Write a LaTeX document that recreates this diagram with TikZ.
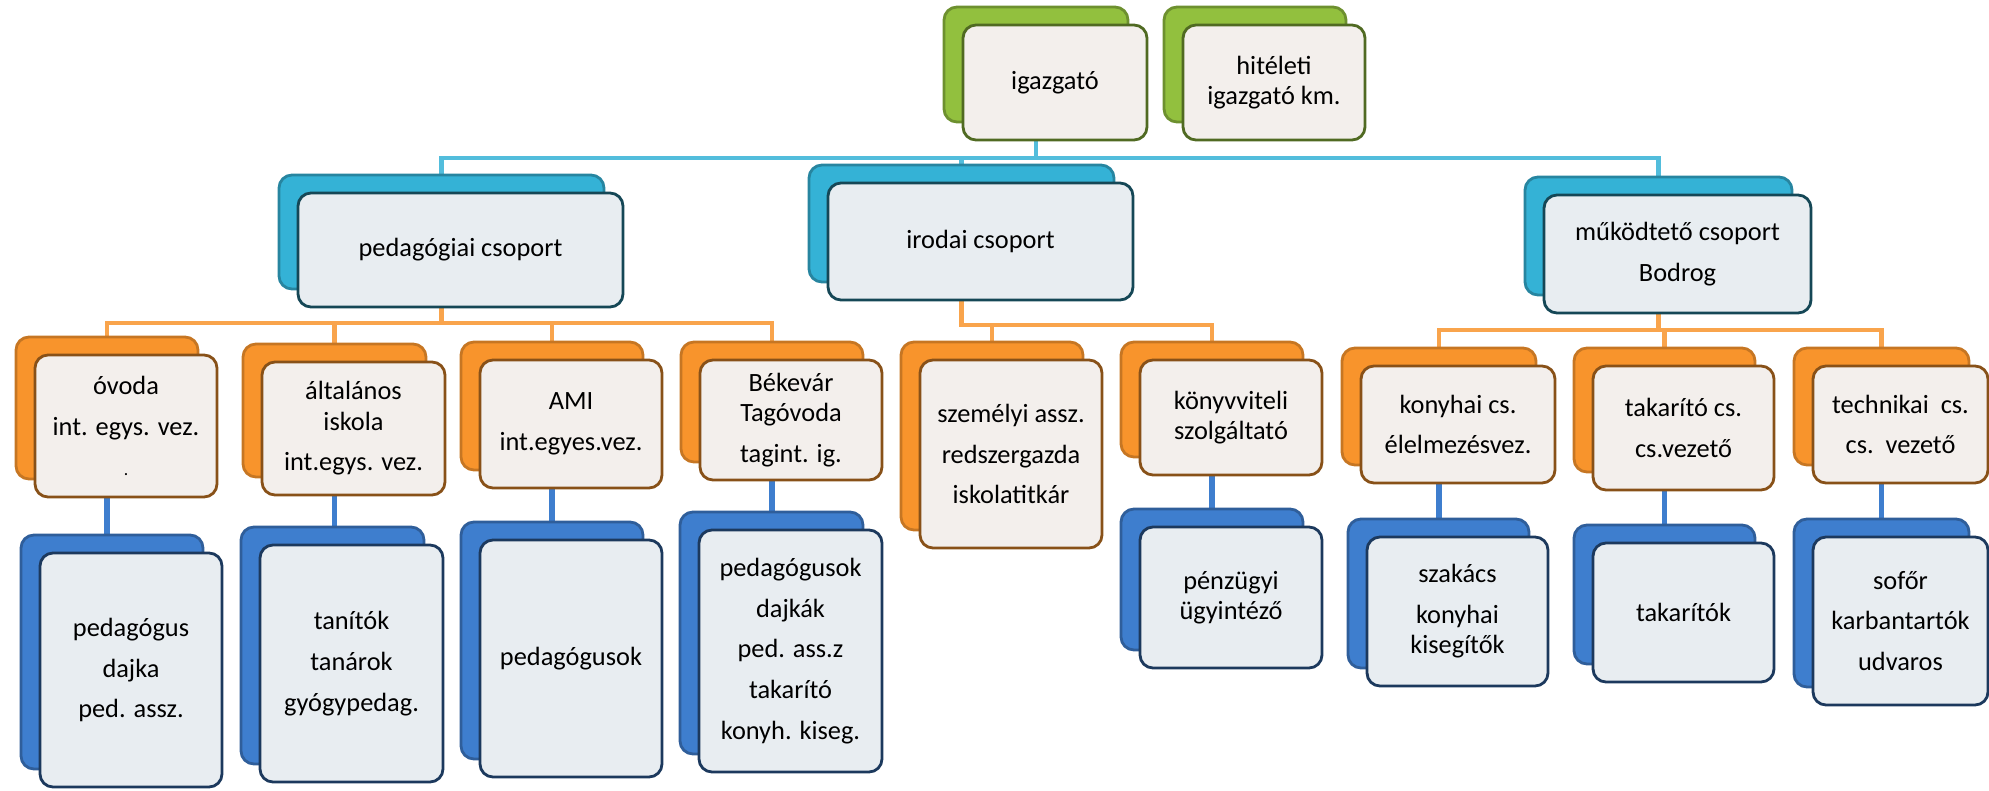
\documentclass[tikz,border=0pt]{standalone}
\usepackage{fontspec}
\setmainfont{Carlito}
\usetikzlibrary{shadows, backgrounds}
\definecolor{OffGreen}{RGB}{146, 192, 62}
\definecolor{OffCyan}{RGB}{52, 178, 214}
\definecolor{OffOrange}{RGB}{248, 148, 44}
\definecolor{OffBlue}{RGB}{62, 126, 206}
\definecolor{OffWarm}{RGB}{243, 239, 236}
\definecolor{OffCool}{RGB}{232, 237, 241}
\tikzset{
  card/.style={rectangle, rounded corners=1.3mm, line width=0.8pt, minimum width=18.2mm,
    align=center, inner sep=1pt, font=\fontsize{7.5}{8.6}\selectfont},
  chief/.style={card, draw=OffGreen!55!black, fill=OffWarm,
    copy shadow={shadow xshift=-1.9mm, shadow yshift=1.8mm, fill=OffGreen, draw=OffGreen!75!black}},
  grp/.style={card, draw=OffCyan!40!black, fill=OffCool,
    copy shadow={shadow xshift=-1.9mm, shadow yshift=1.8mm, fill=OffCyan, draw=OffCyan!75!black}},
  unit/.style={card, draw=OffOrange!55!black, fill=OffWarm,
    copy shadow={shadow xshift=-1.9mm, shadow yshift=1.8mm, fill=OffOrange, draw=OffOrange!80!black}},
  staff/.style={card, draw=OffBlue!45!black, fill=OffCool,
    copy shadow={shadow xshift=-1.9mm, shadow yshift=1.8mm, fill=OffBlue, draw=OffBlue!75!black}},
  grpline/.style={line width=1.2pt, OffCyan!85!white},
  unitline/.style={line width=1.3pt, OffOrange!85!white},
  staffline/.style={line width=1.5pt, OffBlue},
}
\begin{document}
\begin{tikzpicture}
  \useasboundingbox (0,0) rectangle (19.89,7.90);
  % vezetes
  \node[chief, minimum width=18.4mm, minimum height=11.5mm] (igaz) at (10.55,7.075) {igazgató};
  \node[chief, minimum height=11.5mm] (hit) at (12.74,7.075) {hitéleti\\igazgató km.};
  % csoportok
  \node[grp, minimum width=32.5mm, minimum height=11.4mm] (ped) at (4.605,5.40) {pedagógiai csoport};
  \node[grp, minimum width=30.5mm, minimum height=11.7mm] (iro) at (9.805,5.485) {irodai csoport};
  \node[grp, minimum width=26.7mm, minimum height=11.8mm] (muk) at (16.775,5.36) {működtető csoport\\[3pt]Bodrog};
  % egysegek
  \node[unit, minimum height=14.2mm] (ovoda) at (1.26,3.64) {óvoda\\[3pt]int. egys. vez.\\[3pt]{\tiny .}};
  \node[unit, minimum width=18.3mm, minimum height=13.3mm] (alt) at (3.535,3.615) {általános\\iskola\\[3pt]int.egys. vez.};
  \node[unit, minimum height=12.8mm] (ami) at (5.71,3.66) {AMI\\[3pt]int.egyes.vez.};
  \node[unit, minimum height=12mm] (bek) at (7.91,3.70) {Békevár\\Tagóvoda\\[3pt]tagint. ig.};
  \node[unit, minimum height=18.8mm] (szem) at (10.11,3.36) {személyi assz.\\[3pt]redszergazda\\[3pt]iskolatitkár};
  \node[unit, minimum height=11.5mm] (konyv) at (12.31,3.725) {könyvviteli\\szolgáltató};
  \node[unit, minimum width=19.4mm, minimum height=11.7mm] (konyh) at (14.58,3.655) {konyhai cs.\\[3pt]élelmezésvez.};
  \node[unit, minimum width=18.1mm, minimum height=12.4mm] (tak) at (16.835,3.62) {takarító cs.\\[3pt]cs.vezető};
  \node[unit, minimum width=17.5mm, minimum height=11.7mm] (tech) at (19.005,3.655) {technikai\ \ cs.\\[3pt]cs.\ \ vezető};
  % dolgozok
  \node[staff, minimum height=23.4mm] (pedg) at (1.31,1.20) {pedagógus\\[3pt]dajka\\[3pt]ped. assz.};
  \node[staff, minimum width=18.3mm, minimum height=23.7mm] (tan) at (3.515,1.265) {tanítók\\[3pt]tanárok\\[3pt]gyógypedag.};
  \node[staff, minimum height=23.7mm] (pedk) at (5.71,1.315) {pedagógusok};
  \node[staff, minimum width=18.3mm, minimum height=24.2mm] (bekb) at (7.905,1.39) {pedagógusok\\[3pt]dajkák\\[3pt]ped. ass.z\\[3pt]takarító\\[3pt]konyh. kiseg.};
  \node[staff, minimum height=14.1mm] (penz) at (12.31,1.925) {pénzügyi\\ügyintéző};
  \node[staff, minimum width=18.1mm, minimum height=14.9mm] (szak) at (14.575,1.785) {szakács\\[3pt]konyhai\\kisegítők};
  \node[staff, minimum width=18.1mm, minimum height=13.9mm] (takk) at (16.835,1.775) {takarítók};
  \node[staff, minimum width=17.5mm, minimum height=16.8mm] (sof) at (19.005,1.69) {sofőr\\[3pt]karbantartók\\[3pt]udvaros};
  % osszekotok
  \begin{scope}[on background layer]
    \foreach \g in {ped, iro, muk}
      \draw[grpline] ([xshift=-1.9mm]igaz.center) -- ++(0,-0.755) -| ([xshift=-1.9mm]\g.center);
    \foreach \u in {ovoda, alt, ami, bek}
      \draw[unitline] ([xshift=-1.9mm]ped.center) -- ++(0,-0.73) -| ([xshift=-1.9mm]\u.center);
    \foreach \u in {szem, konyv}
      \draw[unitline] ([xshift=-1.9mm]iro.center) -- ++(0,-0.835) -| ([xshift=-1.9mm]\u.center);
    \foreach \u in {konyh, tak, tech}
      \draw[unitline] ([xshift=-1.9mm]muk.center) -- ++(0,-0.76) -| ([xshift=-1.9mm]\u.center);
    \foreach \u/\s in {ovoda/pedg, alt/tan, ami/pedk, bek/bekb, konyv/penz, konyh/szak, tak/takk, tech/sof}
      \draw[staffline] ([xshift=-1.9mm]\u.center) -- ([xshift=-1.9mm]\u.center |- \s.center);
  \end{scope}
\end{tikzpicture}
\end{document}
